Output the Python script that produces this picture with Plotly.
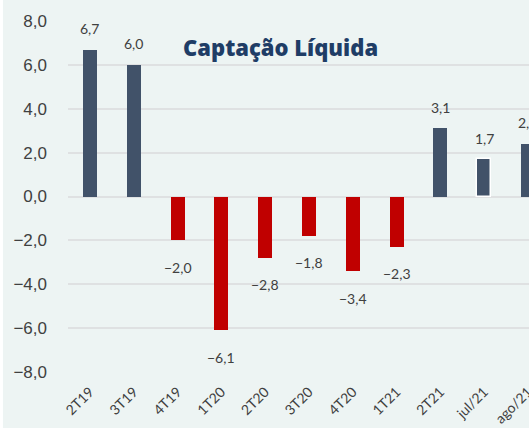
import plotly.graph_objects as go

categories = ["2T19", "3T19", "4T19", "1T20", "2T20", "3T20", "4T20", "1T21", "2T21", "jul/21", "ago/21"]
values = [6.7, 6.0, -2.0, -6.1, -2.8, -1.8, -3.4, -2.3, 3.1, 1.7, 2.4]
y_ticks = [-8, -6, -4, -2, 0, 2, 4, 6, 8]
y_tick_labels = ["-8,0", "-6,0", "-4,0", "-2,0", "0,0", "2,0", "4,0", "6,0", "8,0"]
title_text = "Captação Líquida"

POS = "#415269"
NEG = "#c00000"
BG = "#edf4f3"

colors = [POS if v >= 0 else NEG for v in values]
line_w = [1.5 if c == "jul/21" else 0 for c in categories]
xs = list(range(len(categories)))

fig = go.Figure()
fig.add_trace(go.Bar(
    x=xs, y=values, width=0.32,
    marker=dict(color=colors, line=dict(color="white", width=line_w)),
    hoverinfo="skip",
))

for x, v in zip(xs, values):
    lbl = ("%.1f" % v).replace(".", ",").replace("-", "\u2212")
    fig.add_annotation(
        x=x, y=v, text=lbl, showarrow=False,
        yshift=21 if v >= 0 else -27,
        font=dict(family="Lato", size=14, color="#404040"),
    )

fig.add_annotation(
    x=0.459, y=0.926, xref="paper", yref="paper", yanchor="middle", xanchor="center",
    text=title_text,
    showarrow=False, font=dict(family="Open Sans", size=22, weight=800, color="#1f3d66"),
)

fig.add_shape(type="rect", xref="paper", yref="paper", x0=-0.2, x1=-0.1405, y0=-0.3, y1=1.2,
              fillcolor="white", line=dict(width=0), layer="below")

fig.update_layout(
    width=535, height=428,
    margin=dict(l=68, r=0, t=21, b=56),
    paper_bgcolor=BG, plot_bgcolor=BG,
    showlegend=False,
    bargap=0,
    xaxis=dict(
        range=[-0.5, 10.07], tickmode="array", tickvals=xs, ticktext=categories,
        tickangle=-45, tickfont=dict(family="Lato", size=14, color="#404040"),
        showgrid=False, zeroline=False, showline=False, ticks="",
        ticklabelstandoff=8, ticklabeloverflow="allow",
    ),
    yaxis=dict(
        range=[-8, 8], tickmode="array", tickvals=y_ticks, ticktext=[t.replace("-", "\u2212") for t in y_tick_labels],
        tickfont=dict(family="Liberation Sans", size=17, color="#404040"),
        showgrid=True, gridcolor="#dfe1e2", gridwidth=2, zeroline=False, showline=False,
        ticklabelstandoff=20,
    ),
)

fig.write_html("out.html", config={"displayModeBar": False},
               post_script="document.body.style.margin='0';document.body.style.overflow='hidden';")
